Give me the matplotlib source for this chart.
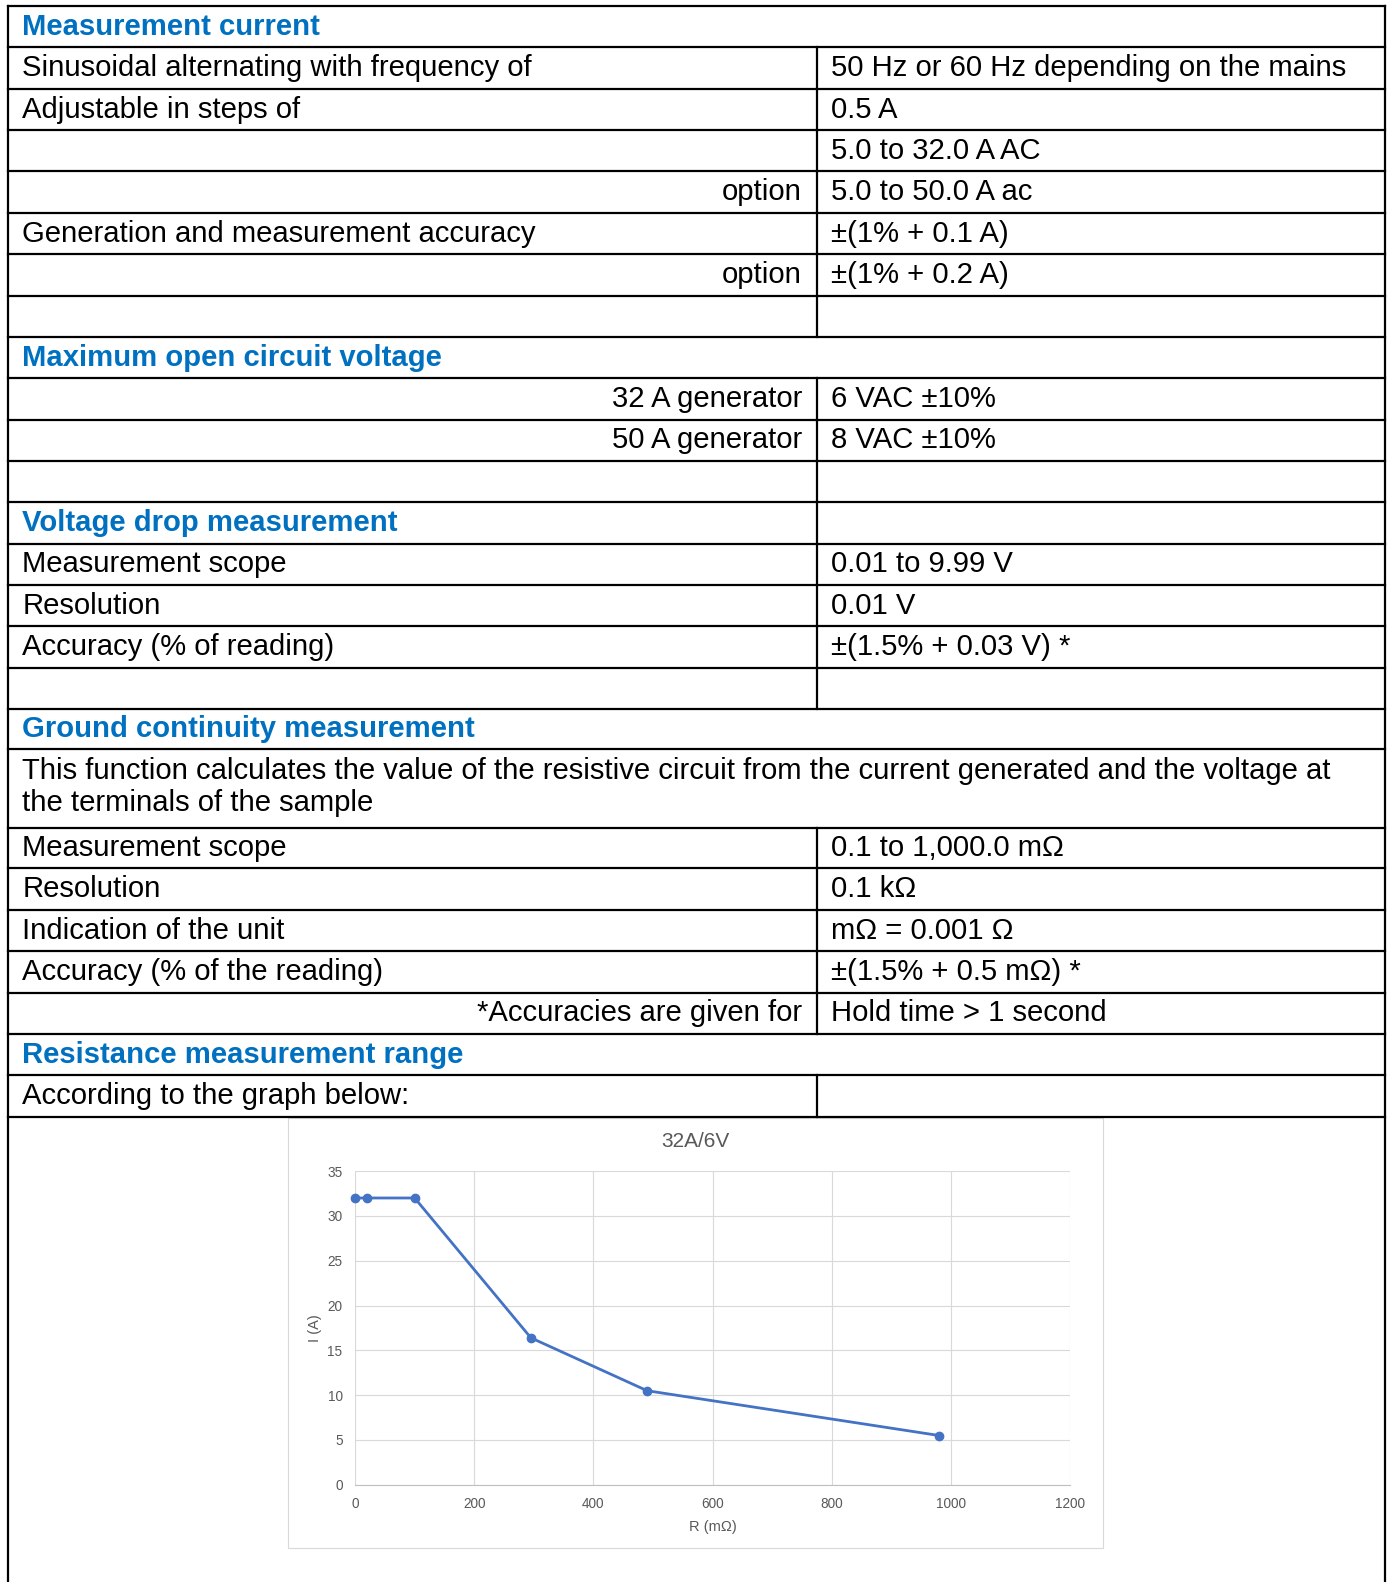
import matplotlib
matplotlib.use("Agg")
import matplotlib.pyplot as plt
from matplotlib.patches import Rectangle

plt.rcParams['font.family'] = ['Liberation Sans', 'DejaVu Sans']

# table content: (left text, right text, kind)
# kind: 'head' = blue header spanning both columns, 'headsplit' = blue header with empty right cell,
#       'row' = normal two-column row, 'rrow' = left text right-aligned, 'para' = spanning paragraph
rows = [
    ("Measurement current", "", "head"),
    ("Sinusoidal alternating with frequency of", "50 Hz or 60 Hz depending on the mains", "row"),
    ("Adjustable in steps of", "0.5 A", "row"),
    ("", "5.0 to 32.0 A AC", "row"),
    ("option", "5.0 to 50.0 A ac", "rrow"),
    ("Generation and measurement accuracy", "±(1% + 0.1 A)", "row"),
    ("option", "±(1% + 0.2 A)", "rrow"),
    ("", "", "row"),
    ("Maximum open circuit voltage", "", "head"),
    ("32 A generator", "6 VAC ±10%", "rrow"),
    ("50 A generator", "8 VAC ±10%", "rrow"),
    ("", "", "row"),
    ("Voltage drop measurement", "", "headsplit"),
    ("Measurement scope", "0.01 to 9.99 V", "row"),
    ("Resolution", "0.01 V", "row"),
    ("Accuracy (% of reading)", "±(1.5% + 0.03 V) *", "row"),
    ("", "", "row"),
    ("Ground continuity measurement", "", "head"),
    ("This function calculates the value of the resistive circuit from the current generated and the voltage at\nthe terminals of the sample", "", "para"),
    ("Measurement scope", "0.1 to 1,000.0 mΩ", "row"),
    ("Resolution", "0.1 kΩ", "row"),
    ("Indication of the unit", "mΩ = 0.001 Ω", "row"),
    ("Accuracy (% of the reading)", "±(1.5% + 0.5 mΩ) *", "row"),
    ("*Accuracies are given for", "Hold time > 1 second", "rrow"),
    ("Resistance measurement range", "", "head"),
    ("According to the graph below:", "", "row"),
]
row_edges = [6, 47, 88, 129, 170, 211, 252, 293, 334, 375, 416, 457, 498, 539,
             580, 621, 662, 703, 743, 821, 861, 902, 943, 984, 1025, 1066, 1107]

# chart data
r_mohm = [0, 20, 100, 295, 490, 980]
i_amp = [32, 32, 32, 16.4, 10.5, 5.5]
x_ticks = [0, 200, 400, 600, 800, 1000, 1200]
y_ticks = [0, 5, 10, 15, 20, 25, 30, 35]

W, H = 1391, 1582
# layout units: page pixels scaled so the page is 1379 wide
U = 1379 / W
PW, PH = W * U, H * U

fig = plt.figure(figsize=(W / 100, H / 100), dpi=100)
ax = fig.add_axes([0, 0, 1, 1])
ax.set_xlim(0, PW)
ax.set_ylim(PH, 0)
ax.axis('off')

x_left, x_mid, x_right = 8, 810, 1373
blue = '#0070C0'
lw = 1.6
fs = 21.1

# outer vertical borders
ax.plot([x_left, x_left], [row_edges[0], PH], color='black', lw=lw)
ax.plot([x_right, x_right], [row_edges[0], PH], color='black', lw=lw)
for y in row_edges:
    ax.plot([x_left, x_right], [y, y], color='black', lw=lw)

for (left, right, kind), y0, y1 in zip(rows, row_edges[:-1], row_edges[1:]):
    yb = (y0 + y1) / 2 + 8
    if kind in ('row', 'rrow', 'headsplit'):
        ax.plot([x_mid, x_mid], [y0, y1], color='black', lw=lw)
    if kind in ('head', 'headsplit'):
        ax.text(22, yb, left, color=blue, fontsize=fs, fontweight='bold', va='baseline', ha='left')
    elif kind == 'para':
        for k, line in enumerate(left.split('\n')):
            ax.text(22, y0 + 29 + 32 * k, line, fontsize=fs, va='baseline', ha='left')
    elif kind == 'rrow':
        ax.text(795, yb, left, fontsize=fs, va='baseline', ha='right')
        ax.text(824, yb, right, fontsize=fs, va='baseline', ha='left')
    else:
        ax.text(22, yb, left, fontsize=fs, va='baseline', ha='left')
        ax.text(824, yb, right, fontsize=fs, va='baseline', ha='left')

# chart frame
ax.add_patch(Rectangle((286, 1108), 1093 - 286, 1535 - 1108, fill=False,
                       edgecolor='#d9d9d9', lw=0.8))
ax.text(689, 1132, "32A/6V", color='#595959', fontsize=15, ha='center', va='center')

gray = '#595959'
cax = fig.add_axes([352 / PW, (PH - 1472) / PH, (1061 - 352) / PW, (1472 - 1161) / PH])
cax.plot(r_mohm, i_amp, color='#4472C4', lw=2, marker='o', markersize=6, zorder=3, clip_on=False)
cax.set_xlim(0, 1200)
cax.set_ylim(0, 35)
cax.set_xticks(x_ticks)
cax.set_yticks(y_ticks)
cax.grid(True, color='#d9d9d9', lw=0.8)
for s in ['top', 'right', 'left']:
    cax.spines[s].set_visible(False)
cax.spines['bottom'].set_color('#bfbfbf')
cax.tick_params(length=0, labelsize=9.8, labelcolor=gray, pad=9)
cax.set_xlabel("R (mΩ)", fontsize=10.5, color=gray, labelpad=6)
cax.set_ylabel("I (A)", fontsize=10.5, color=gray, labelpad=4)
cax.set_facecolor('none')

fig.savefig("out.png", dpi=100)
